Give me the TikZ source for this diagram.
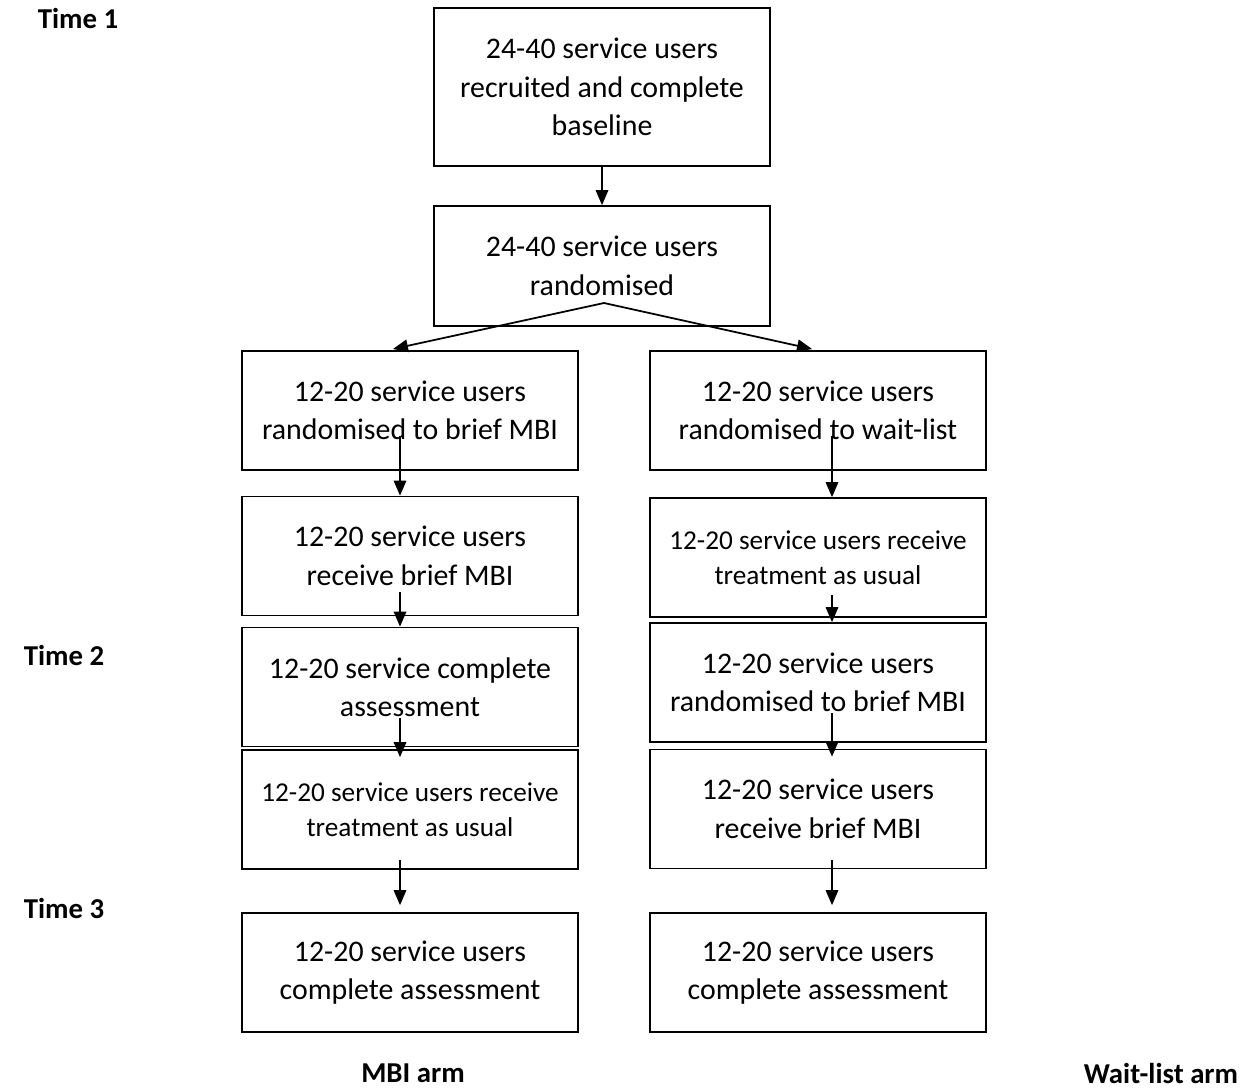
\documentclass[tikz,border=0pt]{standalone}
\usepackage{fontspec}
\setmainfont{Carlito}
\usetikzlibrary{arrows.meta}

\tikzset{
  box/.style={draw, line width=1pt, minimum width=6.72cm, minimum height=2.38cm,
    inner sep=0pt, align=center, font=\fontsize{17}{21.9}\selectfont},
  smallbox/.style={box, font=\fontsize{15.5}{19.9}\selectfont},
  timelabel/.style={font=\fontsize{16.4}{19}\selectfont\bfseries},
  arr/.style={-{Triangle[width=0.25cm,length=0.3cm]}, line width=1pt}
}

\begin{document}
\begin{tikzpicture}[x=0.02cm, y=-0.02cm]
        \useasboundingbox (0,0) rectangle (1251,1089);
        % time labels
        \node[timelabel] (t1) at (78,18) {Time 1};
        \node[timelabel] (t2) at (64,655) {Time 2};
        \node[timelabel] (t3) at (64,908) {Time 3};
        % top boxes
        \node[box, minimum height=3.16cm] (recruit) at (602,87) {24-40 service users\\recruited and complete\\baseline};
        \node[box, minimum height=2.4cm] (rand) at (602,266) {24-40 service users\\randomised};
        % MBI arm
        \node[box] (mbi1) at (410,410.5) {12-20 service users\\randomised to brief MBI};
        \node[box] (mbi2) at (410,556) {12-20 service users\\receive brief MBI};
        \node[box] (mbi3) at (410,687) {12-20 service complete\\assessment};
        \node[smallbox] (mbi4) at (410,809.5) {12-20 service users receive\\treatment as usual};
        \node[box] (mbi5) at (410,972.5) {12-20 service users\\complete assessment};
        % wait-list arm
        \node[box] (wl1) at (818,410.5) {12-20 service users\\randomised to wait-list};
        \node[smallbox] (wl2) at (818,557.5) {12-20 service users receive\\treatment as usual};
        \node[box] (wl3) at (818,682.5) {12-20 service users\\randomised to brief MBI};
        \node[box] (wl4) at (818,809) {12-20 service users\\receive brief MBI};
        \node[box] (wl5) at (818,972.5) {12-20 service users\\complete assessment};
        % arm labels
        \node[timelabel] (mbiarm) at (413,1073) {MBI arm};
        \node[timelabel] (wlarm) at (1161,1073) {Wait-list arm};
        % arrow start points
        \coordinate (split) at (604,303);
        \coordinate (tipl) at (393,349);
        \coordinate (tipr) at (812,349);
        \coordinate (m1) at (400,436);
        \coordinate (m2) at (400,592);
        \coordinate (m3) at (400,718);
        \coordinate (m4) at (400,860);
        \coordinate (w1) at (832,436);
        \coordinate (w2) at (832,595);
        \coordinate (w3) at (832,713);
        \coordinate (w4) at (832,860);
        % draw arrows
        \draw[arr] (recruit) -- (rand);
        \draw[arr] (split) -- (tipl);
        \draw[arr] (split) -- (tipr);
        \foreach \s/\e in {m1/mbi2, m2/mbi3, w1/wl2, w2/wl3}{
          \draw[arr] (\s) -- (\s |- \e.north);
        }
        \foreach \s/\e in {m3/mbi4, w3/wl4}{
          \draw[arr, shorten >=-0.16cm] (\s) -- (\s |- \e.north);
        }
        \foreach \s/\e in {m4/mbi5, w4/wl5}{
          \draw[arr, shorten >=0.14cm] (\s) -- (\s |- \e.north);
        }
      \end{tikzpicture}
\end{document}
